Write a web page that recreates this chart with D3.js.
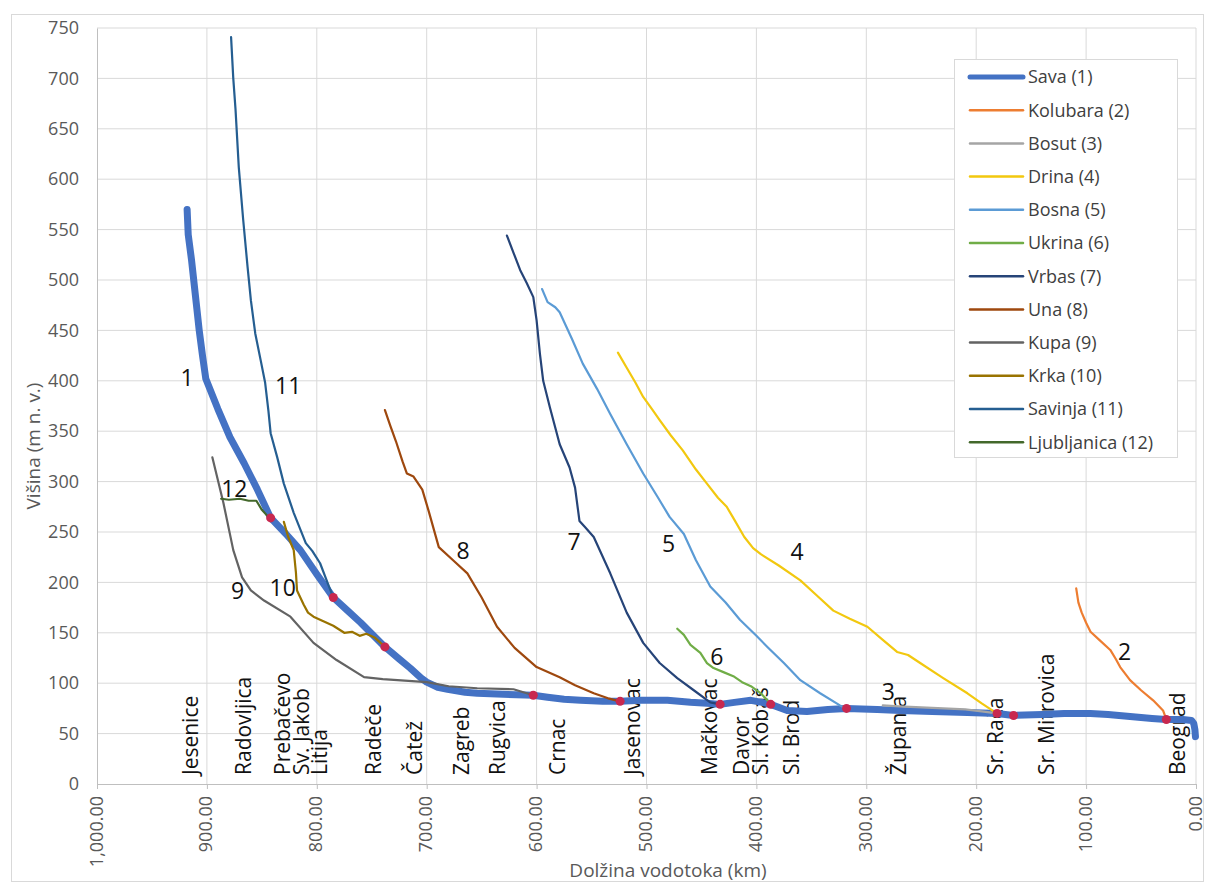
<!DOCTYPE html>
<html>
<head>
<meta charset="utf-8">
<script src="https://cdn.jsdelivr.net/npm/d3@7"></script>
<style>
  body { margin: 0; background: #fff; }
  svg text { font-family: "Open Sans", sans-serif; }
</style>
</head>
<body>
<div id="chart"></div>
<script>
const WIDTH = 1205;
const HEIGHT = 883;

// river profiles: [distance to mouth of Sava (km), elevation (m a.s.l.)]
const sava = [[918,570],[917,545],[914,520],[912,500],[909,470],[907,450],[904,425],[901,402],[890,372],[879,344],[866,318],[854,292],[842,264],[828,248],[815,232],[800,208],[785,185],[772,172],[760,160],[738,136],[725,124],[715,115],[705,105],[700,101],[690,96],[681,94],[665,91],[654,90],[630,89],[603,88],[590,86],[575,84],[560,83],[540,82],[524,82],[505,83],[481,83],[460,81],[445,80],[433,79],[420,81],[405,83],[395,81],[387,79],[372,73],[354,72],[335,74],[318,75],[290,74],[269,73],[240,72],[208,71],[181,70],[166,68],[140,69],[120,70],[96,70],[80,69],[60,67],[40,65],[27,64],[12,64],[4,63],[2,60],[1,54],[0.5,47]];
const kolubara = [[109,194],[107,180],[104,170],[100,160],[96,151],[88,143],[78,133],[73,124],[69,116],[60,103],[50,93],[39,83],[30,73],[27,64]];
const bosut = [[285,78],[270,77],[250,76],[230,75],[210,74],[195,72],[181,70]];
const drina = [[526,428],[518,413],[510,398],[503,384],[495,372],[488,361],[478,346],[467,331],[455,312],[445,298],[435,284],[427,275],[420,262],[411,245],[403,234],[396,228],[380,217],[360,202],[345,187],[330,172],[315,164],[299,156],[285,143],[272,131],[262,128],[251,120],[230,105],[208,90],[195,80],[184,72],[181,70]];
const bosna = [[595,491],[590,478],[583,473],[579,468],[568,442],[558,417],[545,392],[533,367],[518,337],[503,308],[490,285],[479,265],[466,248],[455,222],[442,196],[428,180],[415,163],[400,147],[390,136],[375,120],[360,103],[342,90],[324,78],[318,75]];
const ukrina = [[472,154],[466,148],[460,138],[451,130],[445,120],[439,115],[430,111],[421,107],[413,101],[405,97],[396,90],[390,83],[387,79]];
const vrbas = [[627,544],[621,527],[615,510],[609,497],[603,483],[600,460],[597,427],[594,400],[588,374],[579,337],[570,314],[565,294],[561,261],[556,255],[548,245],[533,209],[518,170],[503,140],[488,120],[472,105],[457,93],[442,81],[433,79]];
const una = [[738,371],[733,355],[728,340],[722,320],[718,308],[712,305],[704,292],[698,270],[689,235],[676,222],[663,209],[650,185],[636,156],[620,135],[600,116],[579,106],[565,98],[548,90],[535,85],[524,82]];
const kupa = [[895,324],[885,279],[876,232],[868,205],[860,192],[848,182],[824,166],[803,140],[782,123],[757,106],[740,104],[700,101],[680,97],[654,95],[621,94],[603,88]];
const krka = [[830,260],[826,245],[821,232],[819,210],[818,192],[812,178],[808,170],[803,166],[795,162],[785,157],[775,150],[768,151],[761,147],[755,149],[747,145],[743,141],[738,136]];
const savinja = [[878,741],[876,700],[874,670],[871,612],[867,560],[863,513],[860,480],[856,447],[851,420],[847,398],[844,370],[842,348],[836,324],[830,298],[821,269],[810,239],[804,231],[797,219],[790,199],[785,185]];
const ljubljanica = [[887,283],[880,282],[870,283],[862,281],[855,281],[850,272],[845,266],[842,264]];

const seriesNames = ["Sava (1)", "Kolubara (2)", "Bosut (3)", "Drina (4)", "Bosna (5)", "Ukrina (6)", "Vrbas (7)", "Una (8)", "Kupa (9)", "Krka (10)", "Savinja (11)", "Ljubljanica (12)"];
const seriesData = [sava, kolubara, bosut, drina, bosna, ukrina, vrbas, una, kupa, krka, savinja, ljubljanica];
const seriesColors = ["#4472C4", "#ED7D31", "#A5A5A5", "#F2C80F", "#5B9BD5", "#70AD47", "#264478", "#9E480E", "#636363", "#997300", "#255E91", "#43682B"];

// confluences on the Sava
const confluenceKm = [842, 785, 738, 603, 524, 433, 387, 318, 181, 166, 27];
const confluenceElev = [264, 185, 136, 88, 82, 79, 79, 75, 70, 68, 64];

// stations along the Sava
const stationNames = ["Jesenice", "Radovljica", "Prebačevo", "Sv. Jakob", "Litija", "Radeče", "Čatež", "Zagreb", "Rugvica", "Crnac", "Jasenovac", "Mačkovac", "Davor", "Sl. Kobaš", "Sl. Brod", "Županja", "Sr. Rača", "Sr. Mitrovica", "Beograd"];
const stationKm = [915, 867, 831, 814, 797, 748, 711, 668, 635, 581, 513, 443, 413, 396, 368, 271, 182, 136, 17];

// river numbers written next to the curves
const numberText = ["1", "2", "3", "4", "5", "6", "7", "8", "9", "10", "11", "12"];
const numberKm = [918, 65, 280, 363, 480, 436, 566, 667, 872, 831, 826, 875];
const numberElev = [403, 131, 91, 230, 238, 126, 240, 231, 192, 194, 395, 293];

const yTicks = d3.range(0, 751, 50);
const xTicks = d3.range(0, 1001, 100);

const MARGIN = { TOP: 28, BOTTOM: 99, LEFT: 97, RIGHT: 9 };

const SVG = d3.select("#chart")
    .append("svg")
    .attr("width", WIDTH)
    .attr("height", HEIGHT);

// outer chart border
SVG.append("rect")
    .attr("x", 11.5)
    .attr("y", 14.5)
    .attr("width", WIDTH - 13)
    .attr("height", HEIGHT - 16)
    .attr("fill", "none")
    .attr("stroke", "#D9D9D9");

const x = d3.scaleLinear().domain([1000, 0]).range([MARGIN.LEFT, WIDTH - MARGIN.RIGHT]);
const y = d3.scaleLinear().domain([0, 750]).range([HEIGHT - MARGIN.BOTTOM, MARGIN.TOP]);

// gridlines
SVG.append("g")
    .selectAll("line")
    .data(yTicks.slice(1))
    .join("line")
    .attr("x1", x(1000)).attr("x2", x(0))
    .attr("y1", d => y(d)).attr("y2", d => y(d))
    .attr("stroke", "#D9D9D9");

SVG.append("g")
    .selectAll("line")
    .data(xTicks.slice(0, -1))
    .join("line")
    .attr("x1", d => x(d)).attr("x2", d => x(d))
    .attr("y1", y(0)).attr("y2", y(750))
    .attr("stroke", "#D9D9D9");

// y axis
const yAxis = SVG.append("g")
    .attr("transform", `translate(${MARGIN.LEFT}, 0)`)
    .call(d3.axisLeft(y).tickValues(yTicks).tickSize(0).tickPadding(18));
yAxis.select(".domain").attr("stroke", "#BFBFBF");
yAxis.selectAll("text")
    .attr("font-size", 18)
    .attr("fill", "#595959")
    .attr("font-family", "Open Sans");

// x axis
const xAxis = SVG.append("g")
    .attr("transform", `translate(0, ${y(0)})`)
    .call(d3.axisBottom(x).tickValues(xTicks).tickSize(5).tickFormat(d3.format(",.2f")));
xAxis.select(".domain").attr("stroke", "#BFBFBF");
xAxis.selectAll(".tick line").attr("stroke", "#BFBFBF");
xAxis.selectAll("text")
    .attr("font-size", 18)
    .attr("fill", "#595959")
    .attr("font-family", "Open Sans")
    .attr("text-anchor", "end")
    .attr("transform", "rotate(-90)")
    .attr("x", -12)
    .attr("y", 0)
    .attr("dy", "0.28em");

// axis titles
SVG.append("text")
    .attr("transform", `translate(33, 446) rotate(-90)`)
    .attr("text-anchor", "middle")
    .attr("dy", "0.35em")
    .attr("font-size", 19)
    .attr("fill", "#595959")
    .text("Višina (m n. v.)");

SVG.append("text")
    .attr("x", 668)
    .attr("y", 877)
    .attr("text-anchor", "middle")
    .attr("font-size", 19)
    .attr("fill", "#595959")
    .text("Dolžina vodotoka (km)");

// station labels
SVG.append("g")
    .selectAll("text")
    .data(stationNames)
    .join("text")
    .attr("transform", (d, i) => `translate(${x(stationKm[i])}, 775) rotate(-90)`)
    .attr("dy", "0.35em")
    .attr("font-size", 21)
    .attr("fill", "#111")
    .text(d => d);

// river lines
const line = d3.line()
    .x(d => x(d[0]))
    .y(d => y(d[1]));

SVG.append("g")
    .selectAll("path")
    .data(seriesData)
    .join("path")
    .attr("d", line)
    .attr("fill", "none")
    .attr("stroke", (d, i) => seriesColors[i])
    .attr("stroke-width", (d, i) => i === 0 ? 7 : 2.2)
    .attr("stroke-linejoin", "round")
    .attr("stroke-linecap", "round");

// confluence points
SVG.append("g")
    .selectAll("circle")
    .data(confluenceKm)
    .join("circle")
    .attr("cx", d => x(d))
    .attr("cy", (d, i) => y(confluenceElev[i]))
    .attr("r", 4.5)
    .attr("fill", "#C8284F");

// river numbers
SVG.append("g")
    .selectAll("text")
    .data(numberText)
    .join("text")
    .attr("x", (d, i) => x(numberKm[i]))
    .attr("y", (d, i) => y(numberElev[i]))
    .attr("text-anchor", "middle")
    .attr("dy", "0.35em")
    .attr("font-size", 23)
    .attr("fill", "#111")
    .text(d => d);

// legend
const legend = SVG.append("g").attr("transform", "translate(954, 59)");
legend.append("rect")
    .attr("x", 0.5).attr("y", 0.5)
    .attr("width", 223).attr("height", 398)
    .attr("fill", "#fff")
    .attr("stroke", "#D9D9D9");

const rows = legend.selectAll(".row")
    .data(seriesNames)
    .join("g")
    .attr("class", "row")
    .attr("transform", (d, i) => `translate(0, ${18 + i * 33.2})`);

rows.append("line")
    .attr("x1", 16).attr("x2", 69)
    .attr("stroke", (d, i) => seriesColors[i])
    .attr("stroke-width", (d, i) => i === 0 ? 5 : 2.5)
    .attr("stroke-linecap", "round");

rows.append("text")
    .attr("x", 74)
    .attr("dy", "0.35em")
    .attr("font-size", 18)
    .attr("fill", "#404040")
    .text(d => d);
</script>
</body>
</html>
